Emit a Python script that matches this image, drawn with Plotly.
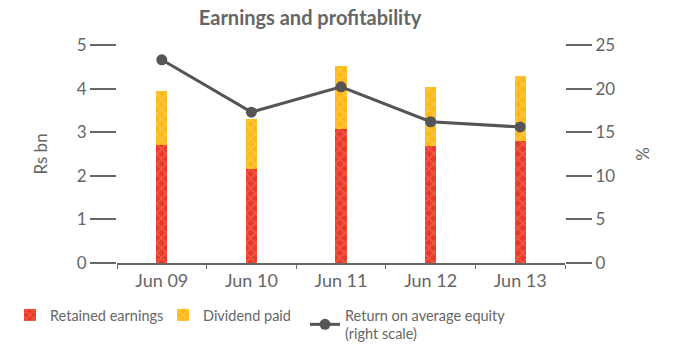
import plotly.graph_objects as go

# Financial years and figures (Rs bn / %)
years = ["Jun 09", "Jun 10", "Jun 11", "Jun 12", "Jun 13"]
retained_earnings = [2.7, 2.15, 3.07, 2.68, 2.8]
dividend_paid = [1.25, 1.15, 1.45, 1.36, 1.49]
return_on_equity = [23.3, 17.3, 20.2, 16.2, 15.6]

left_ticks = [0, 1, 2, 3, 4, 5]
right_ticks = [0, 5, 10, 15, 20, 25]

GREY = "#666666"
FONT = "Lato"

fig = go.Figure()

fig.add_trace(go.Bar(
    x=years, y=retained_earnings, name="Retained earnings", legend="legend",
    marker=dict(color="#E8392A", line=dict(width=0),
                pattern=dict(shape="x", fgcolor="#F47A5E", size=7, solidity=0.45)),
    width=0.125,
))
fig.add_trace(go.Bar(
    x=years, y=dividend_paid, name="Dividend paid", legend="legend2",
    marker=dict(color="#FDB913", line=dict(width=0),
                pattern=dict(shape="x", fgcolor="#FFD070", size=7, solidity=0.45)),
    width=0.125,
))
fig.add_trace(go.Scatter(
    x=years, y=return_on_equity, yaxis="y2", legend="legend3",
    name="Return on average equity<br>(right scale)",
    mode="lines+markers",
    line=dict(color="#555555", width=3),
    marker=dict(color="#555555", size=11),
))

legend_style = dict(
    orientation="h", xref="container", yref="container",
    xanchor="left", yanchor="top", y=1 - 299 / 345,
    font=dict(size=14.5, color=GREY), itemwidth=30,
    bgcolor="rgba(0,0,0,0)",
)

fig.update_layout(
    width=674, height=345,
    margin=dict(l=117, r=109, t=45, b=82, autoexpand=False),
    paper_bgcolor="white", plot_bgcolor="white",
    barmode="stack",
    font=dict(family=FONT, color=GREY, size=16),
    title=dict(text="<b>Earnings and profitability</b>", x=310 / 674, xanchor="center",
               y=1 - 18 / 345, yanchor="middle", font=dict(size=20, color=GREY)),
    xaxis=dict(
        showgrid=False, showline=True, linecolor=GREY, linewidth=2,
        ticks="outside", tickson="boundaries", ticklen=4, tickcolor=GREY, tickwidth=1,
        tickfont=dict(size=18, color=GREY),
    ),
    yaxis=dict(
        range=[0, 5], tickvals=left_ticks, showgrid=False, zeroline=False,
        showline=False, ticks="outside", ticklen=26, tickwidth=2, tickcolor=GREY,
        tickfont=dict(size=17, color=GREY),
        title=dict(text="Rs bn", font=dict(size=17, color=GREY), standoff=24),
    ),
    yaxis2=dict(
        range=[0, 25], tickvals=right_ticks, overlaying="y", side="right",
        showgrid=False, zeroline=False, showline=False,
        ticks="outside", ticklen=26, tickwidth=2, tickcolor=GREY,
        tickfont=dict(size=17, color=GREY),
        title=dict(text="%", font=dict(size=17, color=GREY), standoff=22),
    ),
    legend=dict(legend_style, x=10 / 674),
    legend2=dict(legend_style, x=163 / 674),
    legend3=dict(legend_style, x=305 / 674),
    showlegend=True,
)

fig.write_html("out.html")
